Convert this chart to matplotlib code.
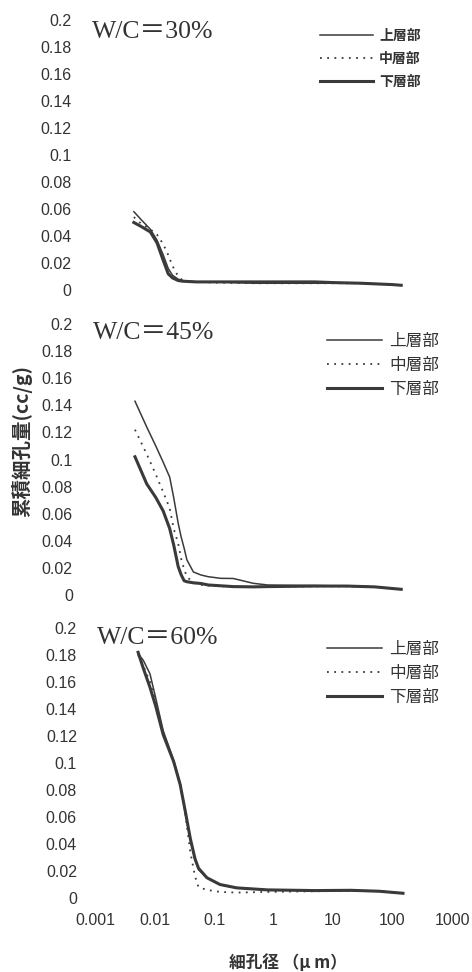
import matplotlib
matplotlib.use("Agg")
import matplotlib.pyplot as plt

plt.rcParams["font.family"] = ["Liberation Sans", "Noto Sans CJK JP"]

inkColor = "#3a3a3a"
textColor = "#333333"

seriesNames = ["上層部", "中層部", "下層部"]
panelTitles = ["W/C＝30%", "W/C＝45%", "W/C＝60%"]

# W/C=30%
x30 = [0.0045, 0.006, 0.0085, 0.011, 0.014, 0.017, 0.02, 0.025, 0.03, 0.05,
       0.1, 0.5, 1, 5, 10, 30, 100, 140]
upper30 = [0.058, 0.052, 0.045, 0.037, 0.026, 0.016, 0.011, 0.008, 0.007, 0.006,
           0.006, 0.005, 0.005, 0.005, 0.005, 0.005, 0.004, 0.0035]
middle30 = [0.054, 0.049, 0.045, 0.041, 0.034, 0.026, 0.018, 0.010, 0.007, 0.006,
            0.0055, 0.005, 0.005, 0.005, 0.005, 0.005, 0.004, 0.0035]
lower30 = [0.050, 0.047, 0.043, 0.035, 0.022, 0.012, 0.009, 0.007, 0.0065, 0.006,
           0.006, 0.006, 0.006, 0.006, 0.0055, 0.005, 0.004, 0.0035]

# W/C=45%
x45 = [0.0047, 0.0074, 0.0105, 0.014, 0.018, 0.021, 0.025, 0.028, 0.0315, 0.035,
       0.045, 0.06, 0.08, 0.13, 0.21, 0.46, 0.8, 5, 17, 50, 140]
upper45 = [0.143, 0.124, 0.110, 0.098, 0.087, 0.072, 0.053, 0.043, 0.0345, 0.026,
           0.017, 0.0148, 0.0135, 0.0123, 0.0122, 0.0086, 0.0074, 0.007, 0.0066, 0.006, 0.0042]
middle45 = [0.122, 0.104, 0.089, 0.076, 0.064, 0.049, 0.038, 0.027, 0.019, 0.0135,
            0.009, 0.0075, 0.007, 0.0065, 0.0062, 0.006, 0.0062, 0.0064, 0.0064, 0.006, 0.0042]
lower45 = [0.102, 0.082, 0.072, 0.062, 0.049, 0.037, 0.021, 0.015, 0.0105, 0.0098,
           0.009, 0.0085, 0.0074, 0.0068, 0.0062, 0.006, 0.0062, 0.0066, 0.0066, 0.006, 0.0042]

# W/C=60%
x60 = [0.0053, 0.0065, 0.0084, 0.0105, 0.014, 0.021, 0.027, 0.033, 0.04, 0.048,
       0.055, 0.076, 0.126, 0.24, 0.8, 5, 20, 60, 150]
upper60 = [0.181, 0.176, 0.166, 0.148, 0.124, 0.102, 0.085, 0.063, 0.043, 0.028,
           0.021, 0.015, 0.0098, 0.0075, 0.006, 0.0055, 0.0055, 0.005, 0.0035]
middle60 = [0.180, 0.172, 0.160, 0.145, 0.122, 0.101, 0.084, 0.062, 0.034, 0.016,
            0.008, 0.006, 0.0045, 0.004, 0.0045, 0.005, 0.0052, 0.005, 0.0035]
lower60 = [0.182, 0.170, 0.156, 0.142, 0.121, 0.101, 0.084, 0.064, 0.044, 0.029,
           0.022, 0.015, 0.010, 0.0075, 0.006, 0.0055, 0.0057, 0.005, 0.0035]

yTicks = [0, 0.02, 0.04, 0.06, 0.08, 0.1, 0.12, 0.14, 0.16, 0.18, 0.2]
yTickLabels = ["0", "0.02", "0.04", "0.06", "0.08", "0.1", "0.12", "0.14", "0.16", "0.18", "0.2"]
xTicks = [0.001, 0.01, 0.1, 1, 10, 100, 1000]
xTickLabels = ["0.001", "0.01", "0.1", "1", "10", "100", "1000"]

W, H = 472, 972


def px2fig(x, y):
	return x / W, 1 - y / H


def drawPanel(fig, rect, x, upper, middle, lower, title, titlePos, legPos, legSize, legWeight,
              handleLen, legSpacing, ypad, showX):
	ax = fig.add_axes(rect)
	ax.plot(x, lower, color=inkColor, lw=2.2, label=seriesNames[2], zorder=2)
	ax.plot(x, middle, color=inkColor, lw=1.3, linestyle=(0, (1, 3)), label=seriesNames[1], zorder=3)
	ax.plot(x, upper, color=inkColor, lw=1.1, label=seriesNames[0], zorder=4)
	ax.set_xscale("log")
	ax.set_xlim(0.001, 1000)
	ax.set_ylim(0, 0.2)
	ax.set_yticks(yTicks)
	ax.set_yticklabels(yTickLabels)
	ax.set_xticks(xTicks)
	ax.minorticks_off()
	if showX:
		ax.set_xticklabels(xTickLabels)
	else:
		ax.set_xticklabels([])
	ax.tick_params(axis="y", length=0, pad=ypad, labelsize=11.5, labelcolor=textColor)
	ax.tick_params(axis="x", length=0, pad=11, labelsize=11.5, labelcolor=textColor)
	for s in ax.spines.values():
		s.set_visible(False)

	tx, ty = px2fig(*titlePos)
	fig.text(tx, ty, title, fontsize=18.5, color=textColor, va="center", ha="left",
	         family=["Liberation Serif", "Noto Sans CJK JP"])

	handles, labels = ax.get_legend_handles_labels()
	order = [2, 1, 0]
	lx, ly = px2fig(*legPos)
	ax.legend([handles[i] for i in order], [labels[i] for i in order],
	          loc="upper left", bbox_to_anchor=(lx, ly), bbox_transform=fig.transFigure,
	          frameon=False, borderpad=0, borderaxespad=0, handlelength=handleLen,
	          handletextpad=0.45, labelspacing=legSpacing,
	          prop={"family": "Noto Sans CJK JP", "size": legSize, "weight": legWeight},
	          labelcolor=textColor)
	return ax


fig = plt.figure(figsize=(W / 100, H / 100), dpi=100)

left = 95 / W
width = (452 - 95) / W
rects = [
	[left, 1 - 290 / H, width, 270 / H],
	[left, 1 - 595 / H, width, 271 / H],
	[left, 1 - 898 / H, width, 270 / H],
]

drawPanel(fig, rects[0], x30, upper30, middle30, lower30, panelTitles[0], (92, 32),
          (320, 29), 10, "bold", 3.8, 0.65, 17, False)
drawPanel(fig, rects[1], x45, upper45, middle45, lower45, panelTitles[1], (93, 333),
          (327, 333), 12, "normal", 3.3, 0.42, 16, False)
drawPanel(fig, rects[2], x60, upper60, middle60, lower60, panelTitles[2], (97, 638),
          (327, 641), 12, "normal", 3.3, 0.42, 13, True)

yx, yy = px2fig(22, 441)
fig.text(yx, yy, "累積細孔量(cc/g)", rotation=90, fontsize=14, color=textColor,
         ha="center", va="center", family=["Noto Sans CJK JP"], weight="bold")
lx, ly = px2fig(288, 963)
fig.text(lx, ly, "細孔径 （μ m）", fontsize=12, color=textColor, ha="center", va="center",
         family=["Noto Sans CJK JP"], weight="bold")

fig.savefig("out.png", dpi=100)
